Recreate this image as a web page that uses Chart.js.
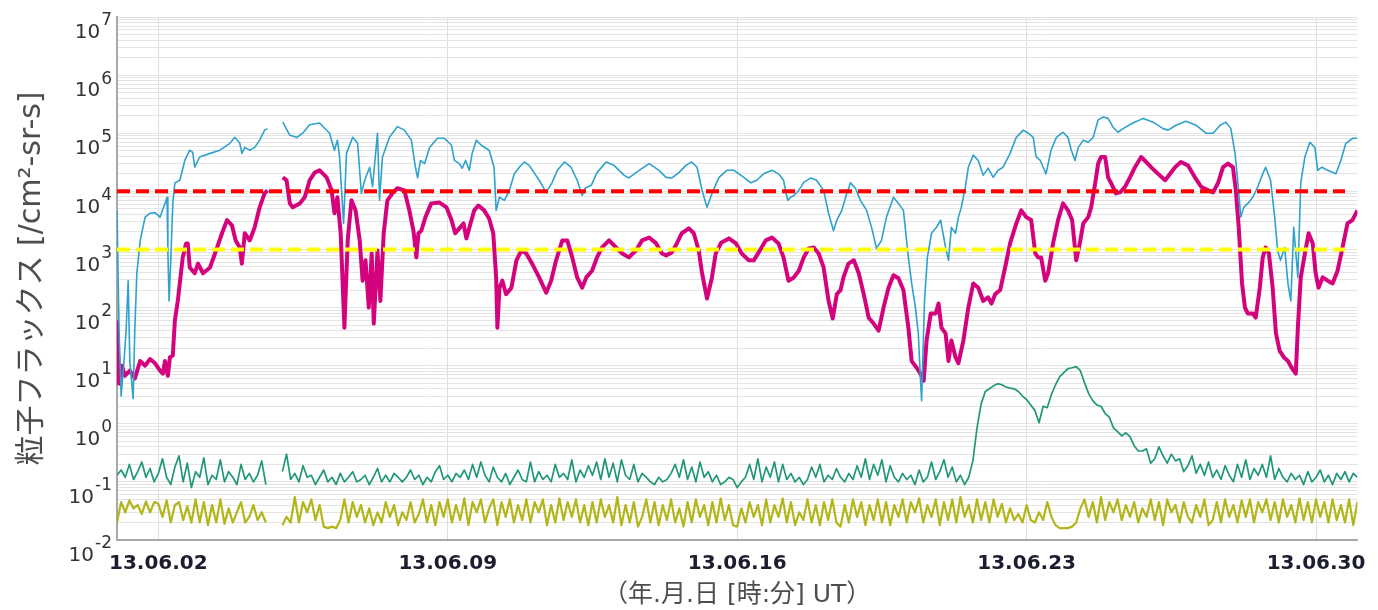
<!DOCTYPE html>
<html>
<head>
<meta charset="utf-8">
<script src="https://cdn.jsdelivr.net/npm/chart.js@4.4.0/dist/chart.umd.min.js"></script>
<style>
  body { margin: 0; background: #fff; }
  #wrap { width: 1378px; height: 610px; }
</style>
</head>
<body>
<div id="wrap"><canvas id="c" width="1378" height="610"></canvas></div>
<script>

// x axis: day of June 2013 (UT)
var weekDays = [2, 9, 16, 23, 30];
var weekLabels = ['13.06.02', '13.06.09', '13.06.16', '13.06.23', '13.06.30'];
var yExponents = [-2, -1, 0, 1, 2, 3, 4, 5, 6, 7];

// alert levels
var thresholdDays = [1, 30.7];
var redLevel = 1e4;
var yellowLevel = 1e3;

// cyan trace (null = data gap)
var cyanDays = [1.00,1.05,1.10,1.17,1.22,1.27,1.31,1.39,1.43,1.48,1.56,1.68,1.80,1.92,2.04,2.16,2.21,2.23,2.26,2.30,
  2.35,2.40,2.52,2.64,2.76,2.83,2.88,2.96,3.00,3.25,3.49,3.73,3.85,3.97,4.02,4.09,4.21,4.33,4.45,4.57,
  4.64,4.80,5.01,5.18,5.35,5.49,5.66,5.90,6.14,6.26,6.33,6.38,6.48,6.55,6.70,6.82,6.91,6.99,7.11,7.18,
  7.30,7.35,7.42,7.59,7.78,7.95,8.12,8.21,8.27,8.34,8.44,8.56,8.75,8.92,9.09,9.16,9.28,9.35,9.43,9.52,
  9.59,9.69,9.81,10.00,10.12,10.17,10.25,10.37,10.49,10.61,10.73,10.85,10.97,11.21,11.38,11.52,11.65,11.82,11.98,12.13,
  12.25,12.32,12.47,12.61,12.83,13.02,13.26,13.38,13.63,13.87,14.11,14.28,14.42,14.59,14.76,14.90,15.03,15.15,15.27,15.39,
  15.56,15.75,15.92,16.16,16.33,16.47,16.64,16.84,17.00,17.12,17.22,17.29,17.37,17.49,17.61,17.78,17.92,18.09,18.21,18.33,
  18.41,18.53,18.65,18.74,18.86,18.98,19.13,19.25,19.37,19.49,19.61,19.78,19.90,20.02,20.14,20.22,20.31,20.38,20.43,20.46,
  20.53,20.60,20.70,20.82,20.92,21.04,21.11,21.18,21.28,21.35,21.42,21.52,21.59,21.71,21.83,21.95,22.07,22.19,22.31,22.43,
  22.60,22.75,22.92,23.04,23.16,23.23,23.33,23.40,23.47,23.59,23.72,23.88,24.00,24.08,24.17,24.25,24.37,24.49,24.61,24.73,
  24.85,24.97,25.09,25.21,25.33,25.57,25.82,26.06,26.30,26.42,26.61,26.85,27.10,27.34,27.51,27.68,27.82,27.94,28.04,28.11,
  28.18,28.25,28.35,28.47,28.59,28.71,28.78,28.90,29.00,29.07,29.14,29.24,29.32,29.39,29.46,29.56,29.63,29.73,29.85,29.97,
  30.04,30.14,30.28,30.48,30.60,30.72,30.89,31.00];
var cyanFlux = [4.7e3,40,3.0,12,40,290,12,2.7,40,390,1.4e3,3.6e3,4.2e3,4.3e3,3.6e3,6.2e3,7.9e3,960,130,650,
  6.2e3,1.4e4,1.55e4,3.4e4,5.1e4,4.7e4,2.6e4,3.4e4,3.9e4,4.5e4,5.1e4,6.7e4,8.5e4,6.7e4,4.5e4,5.7e4,5.1e4,5.7e4,7.6e4,1.13e5,
  1.2e5,null,1.55e5,9.2e4,8.5e4,1.0e5,1.4e5,1.5e5,1.0e5,5.1e4,7.6e4,4.2e4,2.8e3,4.5e4,8.5e4,6.7e4,9.2e3,1.55e4,2.6e4,1.2e4,
  1.0e5,7.0e3,3.9e4,8.5e4,1.3e5,1.13e5,7.6e4,2.8e4,1.7e4,3.4e4,3.0e4,5.7e4,8.2e4,8.2e4,6.2e4,3.4e4,3.0e4,2.5e4,3.4e4,2.3e4,
  4.5e4,7.6e4,6.2e4,5.1e4,2.6e4,4.7e3,7.9e3,7.0e3,1.04e4,2.0e4,2.6e4,3.2e4,2.8e4,1.55e4,9.6e3,1.4e4,2.3e4,3.2e4,2.6e4,1.55e4,
  8.5e3,1.13e4,1.27e4,2.1e4,3.2e4,2.8e4,1.9e4,1.7e4,2.3e4,3.0e4,2.3e4,1.74e4,1.7e4,2.1e4,2.8e4,3.2e4,2.6e4,1.04e4,5.3e3,9.2e3,
  1.74e4,2.3e4,2.3e4,1.74e4,1.4e4,1.55e4,2.0e4,2.3e4,2.0e4,1.55e4,7.0e3,7.9e3,8.5e3,1.04e4,1.43e4,1.7e4,1.55e4,1.04e4,4.2e3,2.1e3,
  3.2e3,4.7e3,9.2e3,1.4e4,1.13e4,7.0e3,4.7e3,2.4e3,1.04e3,1.43e3,3.6e3,7.9e3,6.2e3,4.7e3,730,260,100,36,6.2,2.5,
  130,730,1.9e3,2.4e3,3.2e3,1.08e3,650,2.4e3,1.9e3,3.6e3,5.3e3,1.2e4,2.6e4,4.2e4,3.4e4,1.9e4,2.5e4,1.74e4,2.3e4,2.6e4,
  4.5e4,8.5e4,1.13e5,1.0e5,8.5e4,3.9e4,3.4e4,2.6e4,2.0e4,5.1e4,8.5e4,1.04e5,8.5e4,5.1e4,3.4e4,5.7e4,7.6e4,7.0e4,8.5e4,1.7e5,
  1.9e5,1.8e5,1.27e5,1.04e5,1.2e5,1.5e5,1.8e5,1.55e5,1.2e5,1.13e5,1.37e5,1.6e5,1.37e5,1.0e5,1.0e5,1.37e5,1.55e5,1.2e5,4.5e4,1.4e4,
  3.6e3,5.3e3,6.2e3,7.9e3,1.2e4,2.0e4,2.6e4,1.55e4,3.6e3,960,650,1.08e3,260,130,2.4e3,330,1.4e4,3.9e4,7.0e4,5.7e4,
  2.3e4,2.6e4,2.3e4,2.0e4,3.4e4,6.7e4,8.2e4,8.2e4];

// magenta trace (null = data gap)
var magentaDays = [1.00,1.05,1.12,1.19,1.31,1.43,1.56,1.68,1.80,1.92,2.04,2.11,2.16,2.23,2.28,2.35,2.40,2.47,2.59,2.67,
  2.71,2.76,2.88,2.96,3.08,3.25,3.37,3.54,3.66,3.78,3.87,3.97,4.02,4.09,4.21,4.33,4.45,4.57,4.64,4.80,
  5.01,5.10,5.18,5.25,5.42,5.54,5.66,5.78,5.90,6.07,6.19,6.26,6.33,6.41,6.50,6.58,6.67,6.77,6.87,6.94,
  7.01,7.09,7.16,7.21,7.30,7.37,7.45,7.54,7.66,7.78,7.95,8.07,8.17,8.24,8.29,8.36,8.46,8.60,8.80,8.97,
  9.09,9.18,9.28,9.38,9.45,9.55,9.64,9.74,9.88,10.00,10.10,10.17,10.20,10.25,10.32,10.41,10.54,10.66,10.78,10.90,
  11.04,11.21,11.38,11.50,11.62,11.77,11.89,12.01,12.13,12.25,12.35,12.49,12.61,12.73,12.90,13.07,13.22,13.38,13.55,13.70,
  13.87,14.04,14.18,14.28,14.42,14.54,14.66,14.83,14.95,15.07,15.15,15.27,15.39,15.48,15.61,15.80,15.97,16.11,16.28,16.40,
  16.52,16.69,16.84,17.00,17.12,17.24,17.37,17.49,17.61,17.73,17.85,17.97,18.09,18.21,18.31,18.41,18.50,18.57,18.69,18.82,
  18.94,19.06,19.18,19.30,19.42,19.54,19.66,19.78,19.90,20.02,20.14,20.22,20.34,20.43,20.51,20.58,20.68,20.80,20.87,20.94,
  21.04,21.11,21.18,21.28,21.35,21.47,21.59,21.71,21.83,21.95,22.07,22.15,22.24,22.36,22.48,22.60,22.75,22.87,22.99,23.11,
  23.21,23.28,23.35,23.45,23.52,23.64,23.76,23.88,24.00,24.10,24.20,24.30,24.37,24.49,24.56,24.66,24.73,24.80,24.90,24.97,
  25.04,25.16,25.26,25.38,25.50,25.62,25.77,25.89,26.01,26.18,26.35,26.47,26.59,26.73,26.90,27.07,27.22,27.39,27.51,27.63,
  27.75,27.87,27.99,28.06,28.13,28.21,28.28,28.35,28.47,28.54,28.64,28.71,28.78,28.86,28.95,29.03,29.12,29.22,29.32,29.41,
  29.51,29.56,29.63,29.73,29.82,29.92,29.99,30.06,30.16,30.28,30.40,30.52,30.64,30.76,30.88,31.00];
var magentaFlux = [60,4.9,10,6.7,8.2,6,12,10,13,11,8.2,7.3,12,6.7,14,15,60,130,730,1.27e3,
  1.27e3,490,390,570,390,490,850,1.9e3,3.2e3,2.6e3,1.43e3,1.08e3,570,1.9e3,1.43e3,2.4e3,5.3e3,9.2e3,1.04e4,null,
  1.74e4,1.55e4,6.2e3,5.3e3,6.2e3,7.9e3,1.55e4,2.1e4,2.3e4,1.74e4,1.04e4,4.2e3,7.9e3,1.9e3,45,1.43e3,7.0e3,4.7e3,1.43e3,290,
  650,100,850,53,960,130,1.9e3,7.0e3,9.2e3,1.13e4,1.04e4,4.7e3,2.1e3,730,1.9e3,2.1e3,3.6e3,6.2e3,6.4e3,5.3e3,
  3.2e3,1.9e3,2.3e3,2.8e3,1.55e3,2.8e3,4.7e3,5.7e3,4.7e3,3.4e3,1.9e3,330,45,220,290,170,220,650,960,850,
  570,330,180,290,650,1.43e3,1.43e3,730,330,220,330,430,730,1.08e3,1.43e3,1.08e3,850,730,960,1.43e3,
  1.6e3,1.27e3,850,790,890,1.27e3,1.9e3,2.3e3,1.9e3,960,390,143,330,850,1.3e3,1.55e3,1.27e3,850,650,650,
  890,1.43e3,1.6e3,1.27e3,730,290,330,430,730,1.04e3,1.08e3,850,490,130,65,170,200,330,570,650,
  390,170,67,53,40,100,220,360,320,200,45,12,9.2,7.3,5.5,27,79,79,117,45,
  36,12,27,14,11,27,100,260,220,130,150,117,170,200,490,1.27e3,2.8e3,4.7e3,3.6e3,3.2e3,
  850,730,730,290,390,1.27e3,3.2e3,6.2e3,4.7e3,3.2e3,650,1.43e3,2.8e3,3.6e3,5.3e3,1.4e4,3.0e4,3.9e4,3.9e4,1.74e4,
  1.4e4,9.2e3,9.6e3,1.2e4,1.74e4,2.6e4,3.9e4,3.2e4,2.6e4,2.0e4,1.55e4,2.0e4,2.6e4,3.2e4,2.8e4,1.74e4,1.2e4,1.04e4,9.6e3,1.4e4,
  2.6e4,3.0e4,2.6e4,1.04e4,2.4e3,260,100,79,79,67,220,730,1.08e3,850,220,36,18,14,12,9.2,
  7.3,45,330,850,1.9e3,1.27e3,390,220,330,290,260,430,1.08e3,2.8e3,3.2e3,4.7e3];

// low-energy channels, sampled every 0.1 day from day 1.0 (null = data gap)
var noiseStartDay = 1;
var noiseStepDay = 0.1;
var tealFlux = [
  0.13,0.16,0.12,0.2,0.11,0.15,0.22,0.12,0.17,0.1,
  0.14,0.25,0.12,0.09,0.18,0.28,0.1,0.21,0.08,0.15,
  0.12,0.26,0.09,0.13,0.11,0.24,0.1,0.15,0.12,0.09,
  0.2,0.11,0.14,0.1,0.13,0.23,0.09,null,null,null,
  0.15,0.3,0.11,0.14,0.1,0.19,0.12,0.13,0.09,0.12,
  0.16,0.1,0.12,0.09,0.14,0.1,0.12,0.15,0.1,0.11,
  0.13,0.09,0.12,0.17,0.1,0.13,0.1,0.14,0.12,0.1,
  0.12,0.16,0.11,0.13,0.09,0.12,0.1,0.15,0.19,0.11,
  0.13,0.1,0.14,0.12,0.16,0.11,0.2,0.12,0.22,0.13,
  0.1,0.18,0.12,0.1,0.14,0.09,0.12,0.16,0.11,0.1,
  0.22,0.1,0.15,0.11,0.13,0.1,0.2,0.12,0.14,0.11,
  0.24,0.1,0.16,0.12,0.19,0.13,0.22,0.11,0.25,0.12,
  0.21,0.1,0.24,0.13,0.11,0.2,0.1,0.14,0.12,0.1,
  0.09,0.12,0.1,0.11,0.14,0.2,0.12,0.24,0.11,0.18,
  0.1,0.22,0.12,0.15,0.1,0.13,0.09,0.1,0.12,0.11,
  0.08,0.1,0.12,0.2,0.11,0.25,0.1,0.18,0.12,0.22,
  0.1,0.2,0.11,0.14,0.1,0.12,0.09,0.11,0.18,0.12,
  0.2,0.1,0.13,0.11,0.17,0.12,0.1,0.14,0.11,0.19,
  0.12,0.25,0.11,0.2,0.13,0.24,0.1,0.19,0.12,0.1,
  0.14,0.11,0.13,0.09,0.16,0.1,0.12,0.22,0.11,0.15,
  0.24,0.12,0.18,0.1,0.13,0.09,0.12,0.23,0.85,2.2,
  3.6,4.0,4.5,4.9,4.7,4.3,4.1,4.0,3.6,3.0,
  2.6,2.1,1.7,1.04,2.0,1.9,3.2,4.7,6.5,7.6,
  8.9,9.2,9.6,8.2,5.1,3.3,2.5,2.1,2.0,1.5,
  1.3,0.85,0.73,0.62,0.7,0.6,0.42,0.34,0.34,0.37,
  0.21,0.25,0.4,0.28,0.21,0.3,0.23,0.25,0.15,0.19,
  0.28,0.14,0.2,0.13,0.22,0.12,0.16,0.11,0.19,0.13,
  0.1,0.2,0.12,0.24,0.11,0.17,0.13,0.2,0.12,0.28,
  0.11,0.17,0.12,0.1,0.14,0.11,0.13,0.09,0.15,0.1,
  0.12,0.16,0.1,0.13,0.09,0.14,0.11,0.15,0.1,0.14,
  0.12];
var oliveFlux = [
  0.02,0.045,0.03,0.048,0.035,0.04,0.028,0.046,0.03,0.045,
  0.042,0.025,0.048,0.02,0.04,0.045,0.022,0.038,0.02,0.05,
  0.02,0.045,0.018,0.04,0.02,0.05,0.019,0.035,0.02,0.03,
  0.045,0.02,0.025,0.04,0.022,0.03,0.02,null,null,null,
  0.018,0.025,0.02,0.055,0.02,0.045,0.03,0.05,0.022,0.04,
  0.017,0.016,0.017,0.016,0.022,0.05,0.02,0.045,0.025,0.04,
  0.02,0.035,0.018,0.03,0.02,0.045,0.025,0.04,0.018,0.03,
  0.022,0.045,0.02,0.028,0.05,0.02,0.04,0.018,0.045,0.025,
  0.05,0.02,0.04,0.022,0.052,0.018,0.045,0.03,0.05,0.02,
  0.035,0.05,0.018,0.045,0.025,0.05,0.02,0.04,0.022,0.05,
  0.02,0.045,0.03,0.05,0.018,0.04,0.02,0.052,0.022,0.045,
  0.025,0.05,0.02,0.04,0.018,0.045,0.02,0.05,0.025,0.04,
  0.02,0.055,0.018,0.04,0.02,0.045,0.017,0.025,0.05,0.02,
  0.045,0.018,0.04,0.022,0.05,0.02,0.035,0.017,0.045,0.02,
  0.05,0.025,0.04,0.018,0.045,0.02,0.052,0.022,0.04,0.018,
  0.017,0.035,0.02,0.045,0.025,0.04,0.018,0.05,0.02,0.04,
  0.025,0.052,0.02,0.045,0.018,0.03,0.022,0.05,0.02,0.04,
  0.018,0.045,0.022,0.05,0.02,0.017,0.04,0.02,0.05,0.025,
  0.045,0.018,0.04,0.022,0.05,0.02,0.045,0.018,0.04,0.025,
  0.05,0.02,0.045,0.03,0.052,0.02,0.04,0.025,0.05,0.018,
  0.045,0.022,0.05,0.02,0.055,0.025,0.04,0.02,0.05,0.022,
  0.045,0.02,0.05,0.025,0.042,0.02,0.035,0.022,0.028,0.02,
  0.04,0.022,0.02,0.03,0.022,0.045,0.025,0.018,0.016,0.016,
  0.016,0.017,0.02,0.035,0.05,0.025,0.045,0.02,0.055,0.022,
  0.045,0.03,0.05,0.022,0.04,0.025,0.045,0.02,0.035,0.025,
  0.05,0.022,0.045,0.018,0.05,0.03,0.04,0.02,0.045,0.025,
  0.02,0.04,0.025,0.05,0.018,0.022,0.045,0.02,0.05,0.025,
  0.04,0.02,0.048,0.025,0.05,0.02,0.045,0.03,0.05,0.022,
  0.045,0.02,0.05,0.025,0.04,0.02,0.052,0.022,0.045,0.02,
  0.05,0.025,0.045,0.02,0.05,0.022,0.04,0.02,0.05,0.018,
  0.045];

function pairUp(days, flux) {
    return days.map(function(d, i) { return {x: d, y: flux[i]}; });
}
function sampled(flux) {
    return flux.map(function(v, i) { return {x: noiseStartDay + i * noiseStepDay, y: v}; });
}
function level(v) {
    return thresholdDays.map(function(d) { return {x: d, y: v}; });
}

// y tick labels as 10 with a raised exponent
var decadeLabels = {
    id: 'decadeLabels',
    afterDraw: function(chart) {
        var ctx = chart.ctx;
        var y = chart.scales.y;
        ctx.save();
        ctx.fillStyle = '#333333';
        ctx.textAlign = 'right';
        ctx.textBaseline = 'middle';
        yExponents.forEach(function(e) {
            var py = y.getPixelForValue(Math.pow(10, e));
            var sup = String(e);
            ctx.font = '17px "DejaVu Sans"';
            ctx.fillText(sup, 112, py + 4);
            var w = ctx.measureText(sup).width;
            ctx.font = '20px "DejaVu Sans"';
            ctx.fillText('10', 112 - w - 1, py + 16);
        });
        ctx.restore();
    }
};

var lineStyle = {pointRadius: 0, fill: false, tension: 0, spanGaps: false, borderJoinStyle: 'round'};

new Chart(document.getElementById('c'), {
    type: 'line',
    data: {
        datasets: [
            Object.assign({data: level(redLevel), borderColor: '#ff0000', borderWidth: 4, borderDash: [13, 6]}, lineStyle),
            Object.assign({data: level(yellowLevel), borderColor: '#ffff00', borderWidth: 4, borderDash: [13, 6]}, lineStyle),
            Object.assign({data: pairUp(cyanDays, cyanFlux), borderColor: '#2ea2cc', borderWidth: 1.6}, lineStyle),
            Object.assign({data: pairUp(magentaDays, magentaFlux), borderColor: '#d4037d', borderWidth: 4}, lineStyle),
            Object.assign({data: sampled(tealFlux), borderColor: '#21977a', borderWidth: 1.7}, lineStyle),
            Object.assign({data: sampled(oliveFlux), borderColor: '#b3b51a', borderWidth: 2.2}, lineStyle)
        ]
    },
    options: {
        responsive: false,
        animation: false,
        devicePixelRatio: 1,
        layout: {padding: {top: 17, right: 18, left: 0, bottom: 0}},
        plugins: {legend: {display: false}, tooltip: {enabled: false}},
        scales: {
            x: {
                type: 'linear',
                min: 1,
                max: 31,
                afterBuildTicks: function(s) { s.ticks = weekDays.map(function(v) { return {value: v}; }); },
                afterFit: function(s) { s.height = 70; },
                ticks: {
                    callback: function(v, i) { return weekLabels[i]; },
                    font: {family: '"DejaVu Sans"', size: 20, weight: 'bold'},
                    color: '#1d1d30',
                    padding: 12,
                    maxRotation: 0,
                    autoSkip: false
                },
                grid: {color: '#dedede', lineWidth: 1, drawTicks: false},
                border: {color: '#a8a8a8', width: 2},
                title: {
                    display: true,
                    text: '（年.月.日 [時:分] UT）',
                    font: {family: '"DejaVu Sans", "Noto Sans CJK JP"', size: 25},
                    color: '#4d4d4d',
                    padding: {top: 0, bottom: 0}
                }
            },
            y: {
                type: 'logarithmic',
                min: 1e-2,
                max: 1e7,
                afterBuildTicks: function(s) {
                    var t = [];
                    yExponents.forEach(function(e) {
                        for (var m = 1; m <= 9; m++) {
                            if (e === 7 && m > 1) break;
                            t.push({value: m * Math.pow(10, e)});
                        }
                    });
                    s.ticks = t;
                },
                afterFit: function(s) { s.width = 117; },
                ticks: {display: false},
                grid: {color: '#e4e4e4', lineWidth: 1, drawTicks: false},
                border: {color: '#a8a8a8', width: 2},
                title: {
                    display: true,
                    text: '粒子フラックス [/cm²-sr-s]',
                    font: {family: '"DejaVu Sans", "Noto Sans CJK JP"', size: 30},
                    color: '#4d4d4d',
                    padding: {top: 14, bottom: 0}
                }
            }
        }
    },
    plugins: [decadeLabels]
});
</script>
</body>
</html>
